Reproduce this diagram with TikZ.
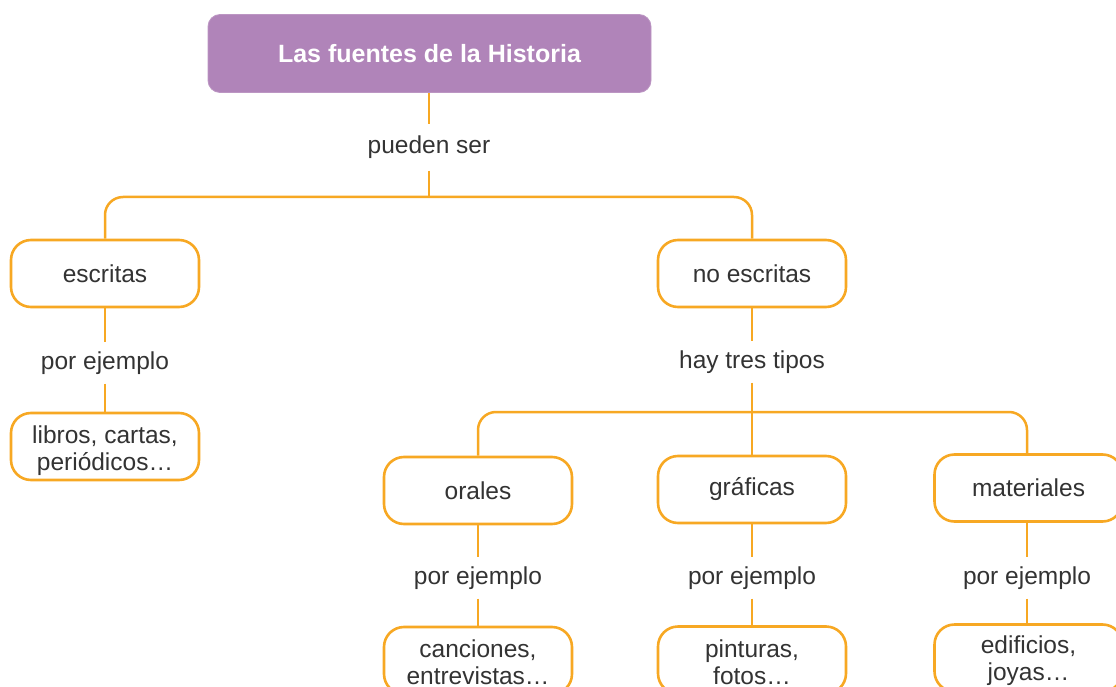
\documentclass[tikz,border=0pt]{standalone}
\usepackage{fontspec}
\setmainfont{Liberation Sans}
\definecolor{orangeline}{HTML}{F7A823}
\definecolor{purplebox}{HTML}{B084B9}
\definecolor{txt}{HTML}{333333}
\newcommand{\bodyfont}{\fontsize{24.5}{27}\selectfont}
\newcommand{\topstrut}[1]{\rule{0pt}{#1}}
\tikzset{
  ibox/.style={draw=orangeline, line width=2.6pt, fill=white, rounded corners=20pt,
    minimum width=188pt, minimum height=67pt, inner sep=0pt, align=center,
    text=txt, font=\bodyfont},
  lbl/.style={inner sep=0pt, minimum height=41pt, text=txt, font=\bodyfont},
  conn/.style={draw=orangeline, line width=2.5pt},
  bar/.style={conn, rounded corners=18pt},
}
\begin{document}
\begin{tikzpicture}[x=1pt,y=-1pt]
\useasboundingbox (0,0) rectangle (1116,687);
\clip (0,0) rectangle (1116,687);
% title
\node[fill=purplebox, draw=purplebox!85!white, line width=0.8pt, rounded corners=12pt,
  minimum width=443pt, minimum height=78pt, text=white,
  font=\bfseries\fontsize{25}{28}\selectfont] (title) at (429.5,53.5) {Las fuentes de la Historia};
\node[lbl, minimum height=46pt] (pueden) at (429,147.5) {pueden ser};
% level 1
\node[ibox] (escritas) at (105,273.5) {escritas};
\node[ibox] (noescritas) at (752,273.5) {no escritas};
\node[lbl] (pe1) at (105,363) {por ejemplo};
\node[ibox] (libros) at (105,446.5) {\topstrut{26pt}libros, cartas,\\periódicos…};
\node[lbl] (hay) at (752,362) {hay tres tipos};
% level 2
\node[ibox] (orales) at (478,490.5) {orales};
\node[ibox] (graficas) at (752,489.5) {gráficas};
\node[ibox] (materiales) at (1028.5,488) {materiales};
\node[lbl] (pe2) at (478,578) {por ejemplo};
\node[lbl] (pe3) at (752,578) {por ejemplo};
\node[lbl] (pe4) at (1027,578) {por ejemplo};
\node[ibox] (canciones) at (478,660.5) {\topstrut{22pt}canciones,\\entrevistas…};
\node[ibox] (pinturas) at (752,660) {\topstrut{22pt}pinturas,\\fotos…};
\node[ibox] (edificios) at (1028.5,658) {\topstrut{24pt}edificios,\\joyas…};
% connectors
\coordinate (bar1) at (0,197);
\coordinate (bar2) at (0,412);
\draw[conn] (pueden.north |- title.south) -- (pueden.north);
\draw[conn] (pueden.south) -- (pueden.south |- bar1);
\draw[bar] (escritas.north) -- (escritas.north |- bar1) -- (noescritas.north |- bar1) -- (noescritas.north);
\draw[conn] (escritas.south) -- (pe1.north);
\draw[conn] (pe1.south) -- (libros.north);
\draw[conn] (noescritas.south) -- (hay.north);
\draw[conn] (hay.south) -- (graficas.north);
\draw[bar] (orales.north) -- (orales.north |- bar2) -- ([xshift=-1.5pt]materiales.north |- bar2) -- ([xshift=-1.5pt]materiales.north);
\draw[conn] (orales.south) -- (pe2.north);
\draw[conn] (pe2.south) -- (canciones.north);
\draw[conn] (graficas.south) -- (pe3.north);
\draw[conn] (pe3.south) -- (pinturas.north);
\draw[conn] ([xshift=-1.5pt]materiales.south) -- (pe4.north);
\draw[conn] (pe4.south) -- ([xshift=-1.5pt]edificios.north);
\end{tikzpicture}
\end{document}
